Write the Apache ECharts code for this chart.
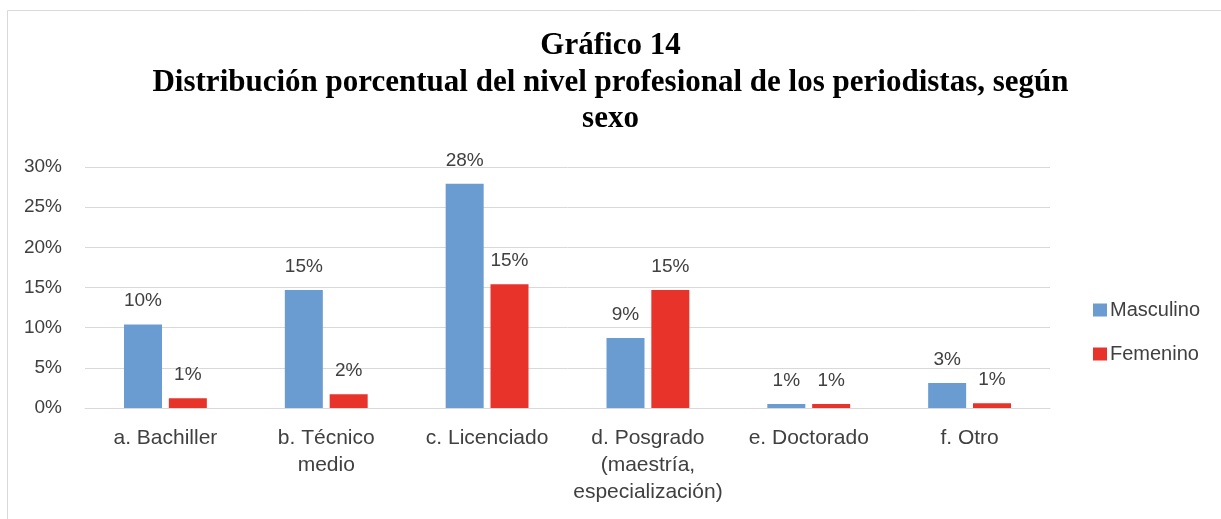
<!DOCTYPE html>
<html><head><meta charset="utf-8">
<script src="https://cdn.jsdelivr.net/npm/echarts@6/dist/echarts.min.js"></script>
<style>html,body{margin:0;padding:0;background:#fff;}#c{width:1221px;height:519px;}</style>
</head><body><div id="c"></div>
<script>
const categories = ["a. Bachiller", "b. Técnico\nmedio", "c. Licenciado", "d. Posgrado\n(maestría,\nespecialización)", "e. Doctorado", "f. Otro"];
const masculino = [10.4, 14.7, 27.9, 8.7, 0.5, 3.1];
const femenino = [1.2, 1.7, 15.4, 14.7, 0.5, 0.6];
const yTicks = [0, 5, 10, 15, 20, 25, 30];

const chart = echarts.init(document.getElementById('c'));
const lbl = {show: true, position: 'top', distance: 14, color: '#404040', fontFamily: 'Liberation Sans', fontSize: 19,
  formatter: p => Math.round(p.value) + '%'};
chart.setOption({
  animation: false,
  graphic: [{type: 'rect', shape: {x: 7.5, y: 10.5, width: 1300, height: 600}, style: {fill: 'none', stroke: '#d9d9d9', lineWidth: 1}, silent: true}],
  title: {text: 'Gráfico 14\nDistribución porcentual del nivel profesional de los periodistas, según\nsexo', left: 'center', top: 23,
    textStyle: {fontFamily: 'Liberation Serif', fontWeight: 'bold', fontSize: 31, color: '#000', lineHeight: 36.5}},
  legend: {orient: 'vertical', left: 1088, top: 295, itemWidth: 14, itemHeight: 13, itemGap: 24, icon: 'rect',
    textStyle: {fontFamily: 'Liberation Sans', fontSize: 20, color: '#404040', padding: [0, 0, 0, -2]},
    data: ['Masculino', 'Femenino']},
  grid: {left: 85, right: 171, top: 167, bottom: 111, containLabel: false},
  xAxis: {type: 'category', data: categories,
    axisLine: {show: true, lineStyle: {color: '#d9d9d9'}}, axisTick: {show: false},
    axisLabel: {interval: 0, margin: 17, color: '#404040', fontFamily: 'Liberation Sans', fontSize: 21, lineHeight: 27}},
  yAxis: {type: 'value', min: yTicks[0], max: yTicks[yTicks.length - 1], interval: 5,
    axisLine: {show: false}, axisTick: {show: false},
    splitLine: {lineStyle: {color: '#d9d9d9'}},
    axisLabel: {margin: 23, color: '#404040', fontFamily: 'Liberation Sans', fontSize: 19, formatter: v => v + '%'}},
  series: [
    {name: 'Masculino', type: 'bar', data: masculino, barWidth: 38, barGap: '18%', itemStyle: {color: '#6a9bd1'}, label: lbl},
    {name: 'Femenino', type: 'bar', data: femenino, barWidth: 38, barGap: '18%', itemStyle: {color: '#e8332a'}, label: lbl}
  ]
});
</script></body></html>
